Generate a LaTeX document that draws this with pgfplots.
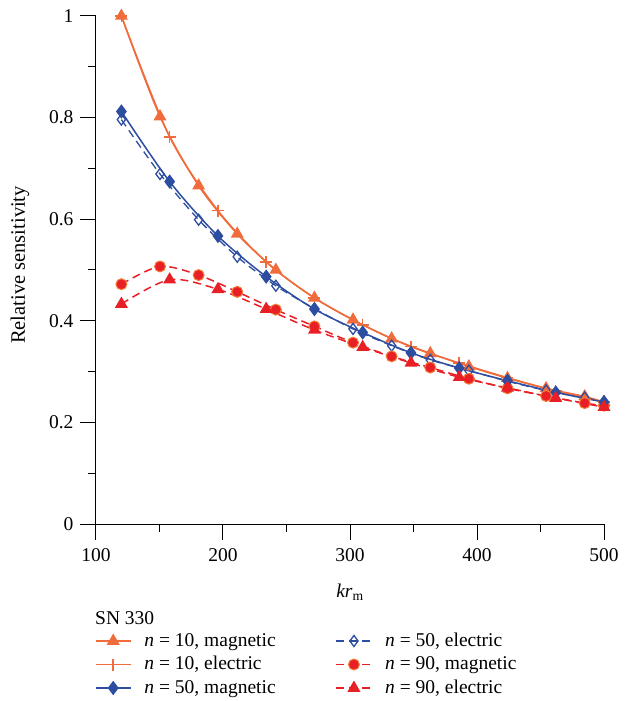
\documentclass[border=0pt]{standalone}
\usepackage{pgfplots}
\pgfplotsset{compat=1.18}
\usepackage{fontspec}
\setmainfont{Liberation Serif}
\definecolor{cOr}{RGB}{240,108,60}
\definecolor{cBl}{RGB}{45,78,160}
\definecolor{cRd}{RGB}{232,32,38}
\definecolor{cCo}{RGB}{245,125,55}
\newcommand{\fs}{\fontsize{19.5}{23}\selectfont}
\begin{document}
\begin{tikzpicture}
\useasboundingbox (-96pt,-177pt) rectangle (538pt,524pt);
\begin{axis}[
 scale only axis, width=508pt, height=508pt,
 xmin=100, xmax=500, ymin=0, ymax=1,
 axis x line*=bottom, axis y line*=left,
 axis line style={-, line width=1pt},
 xtick={100,200,300,400,500}, ytick={0,0.2,0.4,0.6,0.8,1},
 minor tick num=1,
 tick align=outside,
 major tick length=16pt, minor tick length=8pt,
 every tick/.style={black, line width=1pt},
 /pgf/number format/assume math mode=true,
 tick label style={font=\fs},
 xticklabel style={yshift=-5pt},
 yticklabel style={xshift=-3pt},
 xlabel={\textit{kr}\textsubscript{m}},
 ylabel={Relative sensitivity},
 every axis x label/.style={at={(axis description cs:0.5,-0.1437)}, anchor=base, font=\fs},
 every axis y label/.style={at={(axis description cs:-0.1496,0.51)}, rotate=90, anchor=center, font=\fontsize{20.5}{24}\selectfont},
 legend columns=2,
 legend cell align=left,
 legend style={at={(axis description cs:-0.002,-0.2126)}, anchor=north west, draw=none, fill=none,
   inner sep=0pt, outer sep=0pt, font=\fs, row sep=5.5pt,
   nodes={inner sep=0pt, text height=14pt, text depth=4pt},
   /tikz/every odd column/.append style={column sep=13pt},
   /tikz/every even column/.append style={column sep=60pt}},
 legend image code/.code={\draw[mark repeat=2,mark phase=2,#1] plot coordinates {(0pt,0pt) (17.5pt,0pt) (35pt,0pt)};},
 clip=false,
]
% n=10 magnetic
\addplot[cOr, line width=1.5pt, smooth, mark=triangle*, mark size=6pt, mark options={solid, fill=cOr}] coordinates {
(120,1.0) (150.4,0.802) (180.8,0.666) (211.2,0.571) (241.6,0.500) (272,0.445) (302.4,0.402)
(332.8,0.365) (363.2,0.336) (393.6,0.310) (424,0.287) (454.4,0.267) (484.8,0.251) (500,0.240)};
\addlegendentry{\textit{n} = 10, magnetic}
% n=50 electric
\addplot[cBl, line width=1.3pt, smooth, dash pattern=on 8pt off 5pt, mark=diamond, mark size=5.5pt, mark options={solid, fill=white, line width=1.3pt}] coordinates {
(120,0.796) (150.4,0.689) (180.8,0.599) (211.2,0.526) (241.6,0.469) (272,0.424) (302.4,0.384)
(332.8,0.351) (363.2,0.323) (393.6,0.302) (424,0.281) (454.4,0.263) (484.8,0.249) (500,0.240)};
\addlegendentry{\textit{n} = 50, electric}
% n=10 electric
\addplot[cOr, line width=1.5pt, smooth, mark=+, mark size=6pt, mark options={solid, line width=1.5pt}] coordinates {
(120,1.0) (158,0.762) (196,0.617) (234,0.516) (272,0.445) (310,0.392) (348,0.349)
(386,0.317) (424,0.288) (462,0.262) (500,0.240)};
\addlegendentry{\textit{n} = 10, electric}
% n=90 magnetic
\addplot[cRd, line width=1.5pt, smooth, dash pattern=on 8pt off 5pt, mark=*, mark size=5.5pt, mark options={solid, fill=cRd, draw=cCo, line width=1pt}] coordinates {
(120,0.472) (150.4,0.507) (180.8,0.490) (211.2,0.457) (241.6,0.422) (272,0.389) (302.4,0.357)
(332.8,0.330) (363.2,0.308) (393.6,0.286) (424,0.267) (454.4,0.252) (484.8,0.238) (500,0.233)};
\addlegendentry{\textit{n} = 90, magnetic}
% n=50 magnetic
\addplot[cBl, line width=1.5pt, smooth, mark=diamond*, mark size=6pt, mark options={solid, fill=cBl}] coordinates {
(120,0.812) (158,0.674) (196,0.567) (234,0.487) (272,0.423) (310,0.377) (348,0.337)
(386,0.307) (424,0.282) (462,0.259) (500,0.240)};
\addlegendentry{\textit{n} = 50, magnetic}
% n=90 electric
\addplot[cRd, line width=1.5pt, smooth, dash pattern=on 8pt off 5pt, mark=triangle*, mark size=6pt, mark options={solid, fill=cRd}] coordinates {
(120,0.433) (158,0.481) (196,0.462) (234,0.423) (272,0.382) (310,0.348) (348,0.317)
(386,0.289) (424,0.268) (462,0.248) (500,0.230)};
\addlegendentry{\textit{n} = 90, electric}
\node[anchor=base west, font=\fs, inner sep=0pt] at (axis description cs:-0.002,-0.1988) {SN 330};
\end{axis}
\end{tikzpicture}
\end{document}
